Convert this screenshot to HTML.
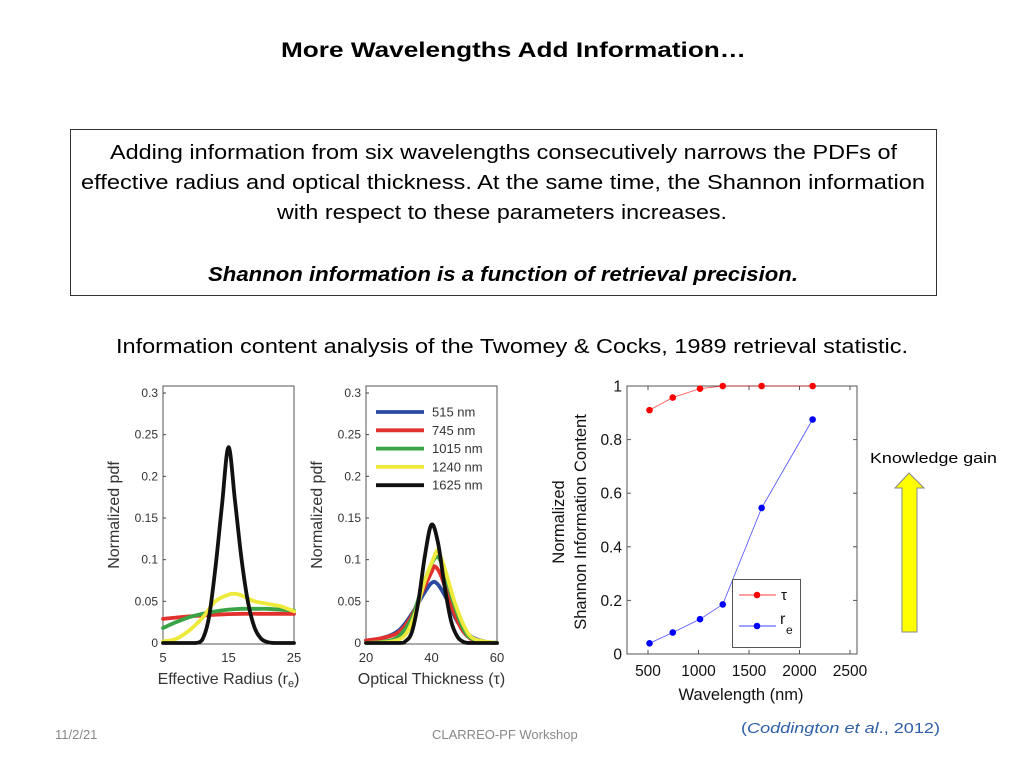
<!DOCTYPE html>
<html><head><meta charset="utf-8"><style>
html,body{margin:0;padding:0;background:#fff;}
svg{display:block;font-family:"Liberation Sans",sans-serif;}
</style></head><body>
<svg id="s" width="1024" height="768" viewBox="0 0 1024 768" xmlns="http://www.w3.org/2000/svg">
<text x="281" y="57" font-size="21" font-weight="bold" textLength="465" lengthAdjust="spacingAndGlyphs">More Wavelengths Add Information…</text>
<rect x="70.5" y="129.5" width="866" height="166" fill="none" stroke="#333" stroke-width="1"/>
<text x="110" y="159" font-size="20" textLength="787" lengthAdjust="spacingAndGlyphs">Adding information from six wavelengths consecutively narrows the PDFs of</text>
<text x="81" y="189" font-size="20" textLength="844" lengthAdjust="spacingAndGlyphs">effective radius and optical thickness. At the same time, the Shannon information</text>
<text x="277" y="219" font-size="20" textLength="450" lengthAdjust="spacingAndGlyphs">with respect to these parameters increases.</text>
<text x="208" y="281" font-size="20" font-weight="bold" font-style="italic" textLength="590" lengthAdjust="spacingAndGlyphs">Shannon information is a function of retrieval precision.</text>
<text x="116" y="353" font-size="20" textLength="792" lengthAdjust="spacingAndGlyphs">Information content analysis of the Twomey &amp; Cocks, 1989 retrieval statistic.</text>
<text x="870" y="463" font-size="15" textLength="127" lengthAdjust="spacingAndGlyphs">Knowledge gain</text>
<polygon points="909,473 924,488 917,488 917,632 902,632 902,488 895,488" fill="#ffff00" stroke="#888" stroke-width="1"/>
<text x="55" y="739" font-size="13" fill="#888">11/2/21</text>
<text x="432" y="739" font-size="13" fill="#888">CLARREO-PF Workshop</text>
<text x="741" y="733" font-size="15" fill="#2e5fa8" textLength="199" lengthAdjust="spacingAndGlyphs">(<tspan font-style="italic">Coddington et al</tspan>., 2012)</text>
<g id="g1"></g><g id="g2"></g><g id="g3"></g>
</svg>
<script>
// Left chart: effective radius PDFs
const reX=[5,6,7,8,9,10,11,12,13,14,15,16,17,18,19,20,21,22,23,24,25];
const reBlack=[0,0,0,0,0,0,0.004,0.03,0.09,0.165,0.235,0.17,0.1,0.048,0.018,0.005,0.001,0,0,0,0];
const reYellowX=[5,7,9,11,13,15,16,17,19,21,23,25];
const reYellow=[0.002,0.005,0.015,0.03,0.05,0.058,0.059,0.057,0.05,0.047,0.044,0.038];
const reGreenX=[5,7,9,11,13,15,17,19,21,23,25];
const reGreen=[0.018,0.025,0.031,0.035,0.038,0.04,0.041,0.041,0.041,0.04,0.039];
const reRedX=[5,9,13,17,21,25];
const reRed=[0.029,0.032,0.034,0.035,0.035,0.035];
// Middle chart: optical thickness PDFs
const tBlueX=[20,25,30,34,37,40,42,45,48,52,56,60];
const tBlue=[0.003,0.006,0.015,0.035,0.055,0.072,0.07,0.05,0.025,0.008,0.002,0];
const tRedX=[20,25,30,34,37,40,41,43,46,49,52,56,60];
const tRed=[0.003,0.006,0.013,0.033,0.06,0.085,0.092,0.08,0.045,0.018,0.005,0.001,0];
const tGreenX=[20,26,30,34,37,40,42,44,47,50,53,60];
const tGreen=[0,0.002,0.008,0.03,0.065,0.095,0.103,0.085,0.045,0.015,0.004,0];
const tYellowX=[20,28,32,35,38,41,42,44,47,50,53,60];
const tYellow=[0,0.002,0.01,0.035,0.075,0.105,0.11,0.09,0.05,0.02,0.005,0];
const tBlackX=[20,30,32,34,36,38,40,42,44,46,48,50,52,60];
const tBlack=[0,0,0.002,0.013,0.05,0.105,0.142,0.12,0.068,0.026,0.007,0.001,0,0];
const pdfTicks=["0","0.05","0.1","0.15","0.2","0.25","0.3"];
const pdfTickVals=[0,0.05,0.1,0.15,0.2,0.25,0.3];
const legendLabels=["515 nm","745 nm","1015 nm","1240 nm","1625 nm"];
// Right chart: Shannon information
const wavelengths=[515,745,1015,1240,1625,2130];
const tauInfo=[0.91,0.957,0.99,1,1,1];
const reInfo=[0.04,0.08,0.13,0.185,0.545,0.875];
const wlTicks=[500,1000,1500,2000,2500];
const infoTicks=[0,0.2,0.4,0.6,0.8,1];

const NS="http://www.w3.org/2000/svg";
function mk(parent,tag,attrs,txt){const e=document.createElementNS(NS,tag);for(const k in attrs)e.setAttribute(k,attrs[k]);if(txt!==undefined)e.textContent=txt;parent.appendChild(e);return e;}
function lin(d0,d1,r0,r1){return v=>r0+(v-d0)/(d1-d0)*(r1-r0);}
function smooth(pts){
  let d="M"+pts[0][0]+","+pts[0][1];
  for(let i=0;i<pts.length-1;i++){
    const p0=pts[Math.max(0,i-1)],p1=pts[i],p2=pts[i+1],p3=pts[Math.min(pts.length-1,i+2)];
    const c1x=p1[0]+(p2[0]-p0[0])/6,c1y=p1[1]+(p2[1]-p0[1])/6;
    const c2x=p2[0]-(p3[0]-p1[0])/6,c2y=p2[1]-(p3[1]-p1[1])/6;
    d+=` C${c1x},${Math.min(c1y,643)} ${c2x},${Math.min(c2y,643)} ${p2[0]},${p2[1]}`;
  }
  return d;
}
const COL={blue:"#2b4aa0",red:"#e2312c",green:"#3aa346",yellow:"#eeea3c",black:"#111"};

function pdfChart(g,x0,x1,dom,xt,xlabel,sub,series,name){
  const X=lin(dom[0],dom[1],x0,x1), Y=lin(0,0.3,643,393);
  const box=mk(g,"rect",{x:x0,y:386,width:x1-x0,height:258,fill:"none",stroke:"#555","stroke-width":1});
  
  
  pdfTickVals.forEach((v,i)=>{
    const t=mk(g,"text",{x:x0-5,y:Y(v)+4,"font-size":12,"text-anchor":"end",fill:"#333"},pdfTicks[i]);
    
    
    mk(g,"line",{x1:x0,x2:x0+3,y1:Y(v),y2:Y(v),stroke:"#444"});
  });
  xt.forEach(v=>{
    const t=mk(g,"text",{x:X(v),y:662,"font-size":13,"text-anchor":"middle",fill:"#333"},String(v));
    
    
  });
  const xl=mk(g,"text",{x:(x0+x1)/2,y:684,"font-size":16,"text-anchor":"middle",fill:"#333"},xlabel);
  if(sub){mk(xl,"tspan",{"font-size":11,dy:3},sub);mk(xl,"tspan",{dy:-3},")");}
  
  
  const yl=mk(g,"text",{x:0,y:0,"font-size":16,"text-anchor":"middle",fill:"#333",transform:`translate(${x0-44},515) rotate(-90)`},"Normalized pdf");
  
  
  series.forEach(s=>{
    const p=mk(g,"path",{d:smooth(s.x.map((v,i)=>[X(v),Y(s.y[i])])),fill:"none",stroke:COL[s.c],"stroke-width":3.8,"stroke-linejoin":"round","stroke-linecap":"round"});
    
    
  });
}
pdfChart(document.getElementById("g1"),163,294,[5,25],[5,15,25],"Effective Radius (r","e",[
  {x:reRedX,y:reRed,c:"red"},{x:reGreenX,y:reGreen,c:"green"},{x:reYellowX,y:reYellow,c:"yellow"},{x:reX,y:reBlack,c:"black"}],"radius-chart");
pdfChart(document.getElementById("g2"),366,497,[20,60],[20,40,60],"Optical Thickness (τ)",null,[
  {x:tBlueX,y:tBlue,c:"blue"},{x:tRedX,y:tRed,c:"red"},{x:tGreenX,y:tGreen,c:"green"},{x:tYellowX,y:tYellow,c:"yellow"},{x:tBlackX,y:tBlack,c:"black"}],"thickness-chart");
(function(){
  const g=document.getElementById("g2");const cs=["blue","red","green","yellow","black"];
  legendLabels.forEach((l,i)=>{
    const y=412+i*18.3;
    const ln=mk(g,"line",{x1:376,x2:424,y1:y,y2:y,stroke:COL[cs[i]],"stroke-width":3.8});
    
    
    const t=mk(g,"text",{x:432,y:y+4.5,"font-size":13,fill:"#333"},l);
    
    
  });
})();
(function(){
  const g=document.getElementById("g3");
  const X=lin(500,2500,648,850), Y=lin(0,1,654,386);
  const box=mk(g,"rect",{x:627,y:386,width:230,height:268,fill:"none",stroke:"#555","stroke-width":1});
  
  
  infoTicks.forEach(v=>{
    mk(g,"line",{x1:627,x2:631,y1:Y(v),y2:Y(v),stroke:"#555"});
    mk(g,"line",{x1:853,x2:857,y1:Y(v),y2:Y(v),stroke:"#555"});
    const t=mk(g,"text",{x:622,y:Y(v)+5.5,"font-size":15.5,"text-anchor":"end",fill:"#111"},String(v));
    
    
  });
  wlTicks.forEach(v=>{
    mk(g,"line",{x1:X(v),x2:X(v),y1:654,y2:650,stroke:"#555"});
    mk(g,"line",{x1:X(v),x2:X(v),y1:386,y2:390,stroke:"#555"});
    const t=mk(g,"text",{x:X(v),y:676,"font-size":15.5,"text-anchor":"middle",fill:"#111"},String(v));
    
    
  });
  const xl=mk(g,"text",{x:741,y:700,"font-size":16.5,"text-anchor":"middle",fill:"#111"},"Wavelength (nm)");
  
  
  const y1=mk(g,"text",{x:0,y:0,"font-size":16.5,"text-anchor":"middle",fill:"#111",transform:"translate(564,522) rotate(-90)"},"Normalized");
  
  
  const y2=mk(g,"text",{x:0,y:0,"font-size":16.5,"text-anchor":"middle",fill:"#111",transform:"translate(586,522) rotate(-90)"},"Shannon Information Content");
  
  
  [[tauInfo,"#f00","tau"],[reInfo,"#00f","re"]].forEach(([d,c,n])=>{
    const p=mk(g,"polyline",{points:wavelengths.map((w,i)=>X(w)+","+Y(d[i])).join(" "),fill:"none",stroke:c,"stroke-width":0.8,"stroke-opacity":0.7});
    
    
    wavelengths.forEach((w,i)=>{
      const m=mk(g,"circle",{cx:X(w),cy:Y(d[i]),r:3.3,fill:c});
      
      
    });
  });
  const lg=mk(g,"rect",{x:732.5,y:579.5,width:68,height:68,fill:"#fff",stroke:"#555"});
  
  
  mk(g,"line",{x1:739,x2:776,y1:595,y2:595,stroke:"#f00","stroke-width":0.8});
  mk(g,"circle",{cx:757,cy:595,r:3.3,fill:"#f00"});
  const lt=mk(g,"text",{x:781,y:600,"font-size":15,fill:"#111"},"τ");
  
  
  mk(g,"line",{x1:739,x2:776,y1:626,y2:626,stroke:"#00f","stroke-width":0.8});
  mk(g,"circle",{cx:757,cy:626,r:3.3,fill:"#00f"});
  const lr=mk(g,"text",{x:780,y:624,"font-size":16,fill:"#111"},"r");
  
  
  mk(g,"text",{x:786,y:634,"font-size":12,fill:"#111"},"e");
})();
</script>
</body></html>
